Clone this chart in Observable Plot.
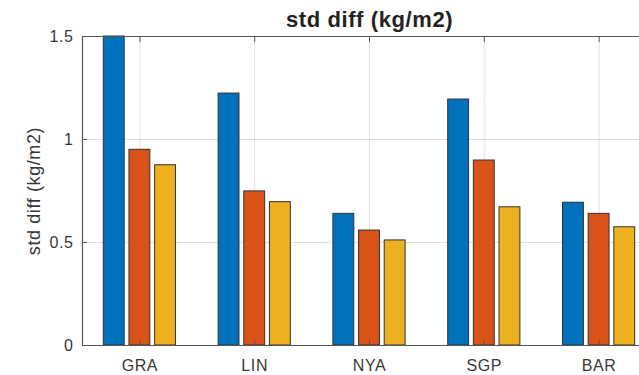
<!DOCTYPE html>
<html><head>
<meta charset="utf-8">
<script src="https://cdn.jsdelivr.net/npm/d3@7"></script>
<script src="https://cdn.jsdelivr.net/npm/@observablehq/plot@0.6"></script>
<style>body{margin:0;background:#fff;overflow:hidden} svg text{letter-spacing:0.6px}</style>
</head><body><div id="chart"></div>
<script>
const sites = ["GRA", "LIN", "NYA", "SGP", "BAR"];
const seriesNames = ["A", "B", "C"];
const seriesA = [1.5, 1.223, 0.639, 1.194, 0.693];
const seriesB = [0.95, 0.748, 0.558, 0.898, 0.639];
const seriesC = [0.875, 0.696, 0.51, 0.671, 0.574];
const colors = ["#0072BD", "#D95319", "#EDB120"];
const yTicks = [0, 0.5, 1, 1.5];
const titleText = "std diff (kg/m2)";
const yLabelText = "std diff (kg/m2)";

const xDomain = [0.5, sites.length + 0.5];
const groupOffset = 0.2235, barWidth = 0.182;
const table = [];
[seriesA, seriesB, seriesC].forEach((vals, j) =>
  vals.forEach((v, i) => table.push({site: sites[i], series: seriesNames[j], center: i + 1 + (j - 1) * groupOffset, value: v}))
);
const xTicks = sites.map((s, i) => i + 1);

const chart = Plot.plot({
  width: 639,
  height: 375,
  marginLeft: 82,
  marginRight: 0,
  marginTop: 36,
  marginBottom: 30,
  style: {fontFamily: "'Liberation Sans', Arial, sans-serif", fontSize: "16px", color: "#333", background: "#fff"},
  x: {domain: xDomain, range: [82, 656]},
  y: {domain: [0, 1.5]},
  color: {domain: seriesNames, range: colors},
  marks: [
    Plot.gridX(xTicks, {stroke: "#000", strokeOpacity: 0.12}),
    Plot.gridY(yTicks, {stroke: "#000", strokeOpacity: 0.12}),
    Plot.rectY(table, {x1: d => d.center - barWidth / 2, x2: d => d.center + barWidth / 2, y: "value", fill: "series", stroke: "#333", strokeWidth: 1}),
    Plot.ruleY([0, 1.5], {stroke: "#555", strokeWidth: 1.2}),
    Plot.ruleX([xDomain[0]], {stroke: "#555", strokeWidth: 1.2}),
    Plot.axisX({ticks: xTicks, tickSize: 0, tickPadding: 14, tickFormat: i => sites[i - 1], label: null, fill: "#383838", fontSize: 16}),
    Plot.axisX({anchor: "bottom", ticks: xTicks, tickSize: -5, tickFormat: () => "", label: null, stroke: "#555"}),
    Plot.axisX({anchor: "top", ticks: xTicks, tickSize: -5, tickFormat: () => "", label: null, stroke: "#555"}),
    Plot.axisY({ticks: yTicks, tickSize: 0, tickPadding: 9, tickFormat: d => String(d), label: null, fill: "#383838", fontSize: 16}),
    Plot.axisY({ticks: yTicks, tickSize: -5, tickFormat: () => "", label: null, stroke: "#555"}),
    Plot.text([titleText], {x: () => d3.mean(xDomain), frameAnchor: "top", lineAnchor: "middle", textAnchor: "middle", dy: -17, text: d => d, fontSize: 22, fontWeight: "bold", fill: "#222", style: "letter-spacing:1.2px"}),
    Plot.text([yLabelText], {frameAnchor: "left", lineAnchor: "middle", textAnchor: "middle", rotate: -90, dx: -48, text: d => d, fontSize: 18, fill: "#383838", style: "letter-spacing:1.6px"})
  ]
});
document.getElementById("chart").append(chart);
</script>
</body></html>
